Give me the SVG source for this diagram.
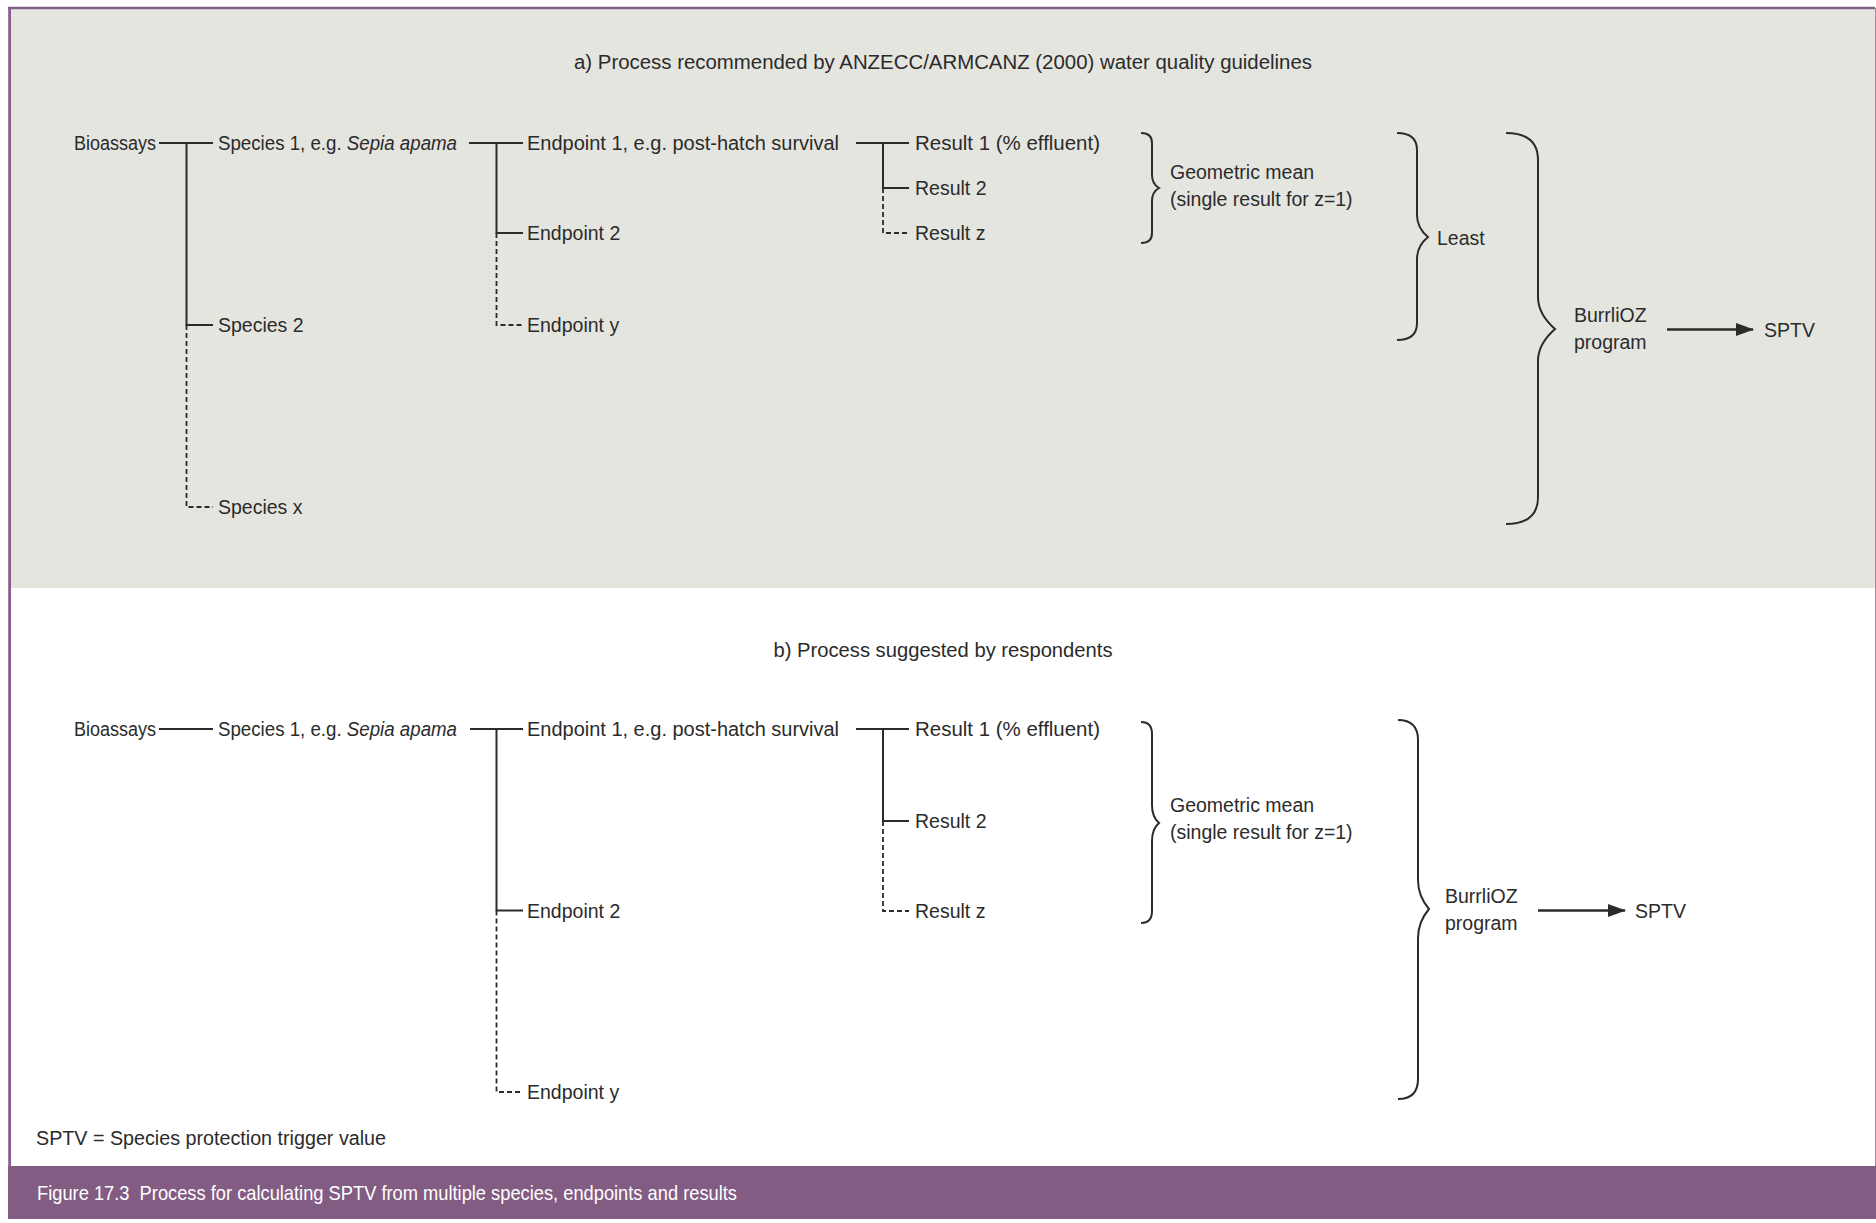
<svg xmlns="http://www.w3.org/2000/svg" width="1876" height="1223" viewBox="0 0 1876 1223">
<defs>
<style>
text{font-family:"Liberation Sans",Arial,sans-serif;font-size:19.5px;fill:#2b2b2b}
.t{text-anchor:middle}
.ln{stroke:#2b2b2b;stroke-width:2;fill:none}
.ds{stroke:#2b2b2b;stroke-width:1.8;fill:none;stroke-dasharray:5 3}
.br{stroke:#2b2b2b;stroke-width:2;fill:none}
.ar{stroke:#2b2b2b;stroke-width:2.6;fill:none}
.cap{fill:#ffffff;font-size:21px}
</style>
<marker id="ah" viewBox="0 0 18 13" refX="17" refY="6.5" markerWidth="18" markerHeight="13" markerUnits="userSpaceOnUse" orient="auto">
<path d="M0,0 L18,6.5 L0,13 z" fill="#2b2b2b"/>
</marker>
</defs>
<rect x="0" y="0" width="1876" height="1223" fill="#ffffff"/>
<rect x="10" y="9" width="1865" height="579" fill="#e5e5e0"/>
<line x1="8" y1="8" x2="1875" y2="8" stroke="#85608a" stroke-width="2.6"/>
<line x1="9.6" y1="7" x2="9.6" y2="1166" stroke="#85608a" stroke-width="2.8"/>
<line x1="1875.5" y1="8" x2="1875.5" y2="1166" stroke="#a58aa8" stroke-width="1"/>
<rect x="8" y="1166" width="1868" height="53" fill="#835c84"/>

<g id="title-a"><text class="t" x="943" y="69" textLength="738" lengthAdjust="spacingAndGlyphs">a) Process recommended by ANZECC/ARMCANZ (2000) water quality guidelines</text></g>
<g id="title-b"><text class="t" x="943" y="657" textLength="339" lengthAdjust="spacingAndGlyphs">b) Process suggested by respondents</text></g>

<g id="connectors">
<!-- panel a -->
<path class="ln" d="M159,143 H213 M186.5,143 V325 H213"/>
<path class="ds" d="M186.5,325 V507 H213"/>
<path class="ln" d="M469,143 H523 M496.5,143 V233 H523"/>
<path class="ds" d="M496.5,233 V325 H523"/>
<path class="ln" d="M856,143 H909 M883,143 V188 H909"/>
<path class="ds" d="M883,188 V233 H909"/>
<line class="ar" x1="1667" y1="329.5" x2="1753" y2="329.5" marker-end="url(#ah)"/>
<!-- panel b -->
<path class="ln" d="M159,729 H213"/>
<path class="ln" d="M470,729 H523 M496.5,729 V910.5 H523"/>
<path class="ds" d="M496.5,910.5 V1092 H523"/>
<path class="ln" d="M856,729 H909 M883,729 V821 H909"/>
<path class="ds" d="M883,821 V911 H909"/>
<line class="ar" x1="1538" y1="910.5" x2="1625" y2="910.5" marker-end="url(#ah)"/>
</g>

<g id="braces">
<path class="br" d="M1141,133 Q1152,133 1152,143 L1152,175 Q1152,184 1159,188 Q1152,192 1152,201 L1152,233 Q1152,243 1141,243"/>
<path class="br" d="M1397,133 Q1417,133 1417,150 L1417,215 Q1417,228 1428,237 Q1417,246 1417,259 L1417,323 Q1417,340 1397,340"/>
<path class="br" d="M1506,133 Q1538,133 1538,160 L1538,297 Q1538,314 1555,329 Q1538,344 1538,361 L1538,497 Q1538,524 1506,524"/>
<path class="br" d="M1141,722 Q1152,722 1152,734 L1152,805 Q1152,817 1159,823 Q1152,829 1152,841 L1152,911 Q1152,923 1141,923"/>
<path class="br" d="M1398,720 Q1418,720 1418,740 L1418,880 Q1418,896 1429,909 Q1418,922 1418,938 L1418,1079 Q1418,1099 1398,1099"/>
</g>

<g id="a-bioassays"><text x="74" y="150" textLength="82" lengthAdjust="spacingAndGlyphs">Bioassays</text></g>
<g id="a-species1"><text x="218" y="150" textLength="239" lengthAdjust="spacingAndGlyphs">Species 1, e.g. <tspan font-style="italic">Sepia apama</tspan></text></g>
<g id="a-species2"><text x="218" y="332">Species 2</text></g>
<g id="a-speciesx"><text x="218" y="514">Species x</text></g>
<g id="a-endpoint1"><text x="527" y="150" textLength="312" lengthAdjust="spacingAndGlyphs">Endpoint 1, e.g. post-hatch survival</text></g>
<g id="a-endpoint2"><text x="527" y="240">Endpoint 2</text></g>
<g id="a-endpointy"><text x="527" y="332">Endpoint y</text></g>
<g id="a-result1"><text x="915" y="150" textLength="185" lengthAdjust="spacingAndGlyphs">Result 1 (% effluent)</text></g>
<g id="a-result2"><text x="915" y="195">Result 2</text></g>
<g id="a-resultz"><text x="915" y="240">Result z</text></g>
<g id="a-geomean"><text x="1170" y="179">Geometric mean</text><text x="1170" y="206">(single result for z=1)</text></g>
<g id="a-least"><text x="1437" y="245">Least</text></g>
<g id="a-burrlioz"><text x="1574" y="322">BurrliOZ</text><text x="1574" y="349">program</text></g>
<g id="a-sptv"><text x="1764" y="337">SPTV</text></g>

<g id="b-bioassays"><text x="74" y="736" textLength="82" lengthAdjust="spacingAndGlyphs">Bioassays</text></g>
<g id="b-species1"><text x="218" y="736" textLength="239" lengthAdjust="spacingAndGlyphs">Species 1, e.g. <tspan font-style="italic">Sepia apama</tspan></text></g>
<g id="b-endpoint1"><text x="527" y="736" textLength="312" lengthAdjust="spacingAndGlyphs">Endpoint 1, e.g. post-hatch survival</text></g>
<g id="b-endpoint2"><text x="527" y="917.5">Endpoint 2</text></g>
<g id="b-endpointy"><text x="527" y="1099">Endpoint y</text></g>
<g id="b-result1"><text x="915" y="736" textLength="185" lengthAdjust="spacingAndGlyphs">Result 1 (% effluent)</text></g>
<g id="b-result2"><text x="915" y="828">Result 2</text></g>
<g id="b-resultz"><text x="915" y="918">Result z</text></g>
<g id="b-geomean"><text x="1170" y="812">Geometric mean</text><text x="1170" y="839">(single result for z=1)</text></g>
<g id="b-burrlioz"><text x="1445" y="903">BurrliOZ</text><text x="1445" y="930">program</text></g>
<g id="b-sptv"><text x="1635" y="917.5">SPTV</text></g>

<g id="legend"><text x="36" y="1145" textLength="350" lengthAdjust="spacingAndGlyphs">SPTV = Species protection trigger value</text></g>
<g id="caption"><text class="cap" x="37" y="1200" textLength="700" lengthAdjust="spacingAndGlyphs" xml:space="preserve">Figure 17.3  Process for calculating SPTV from multiple species, endpoints and results</text></g>
</svg>
